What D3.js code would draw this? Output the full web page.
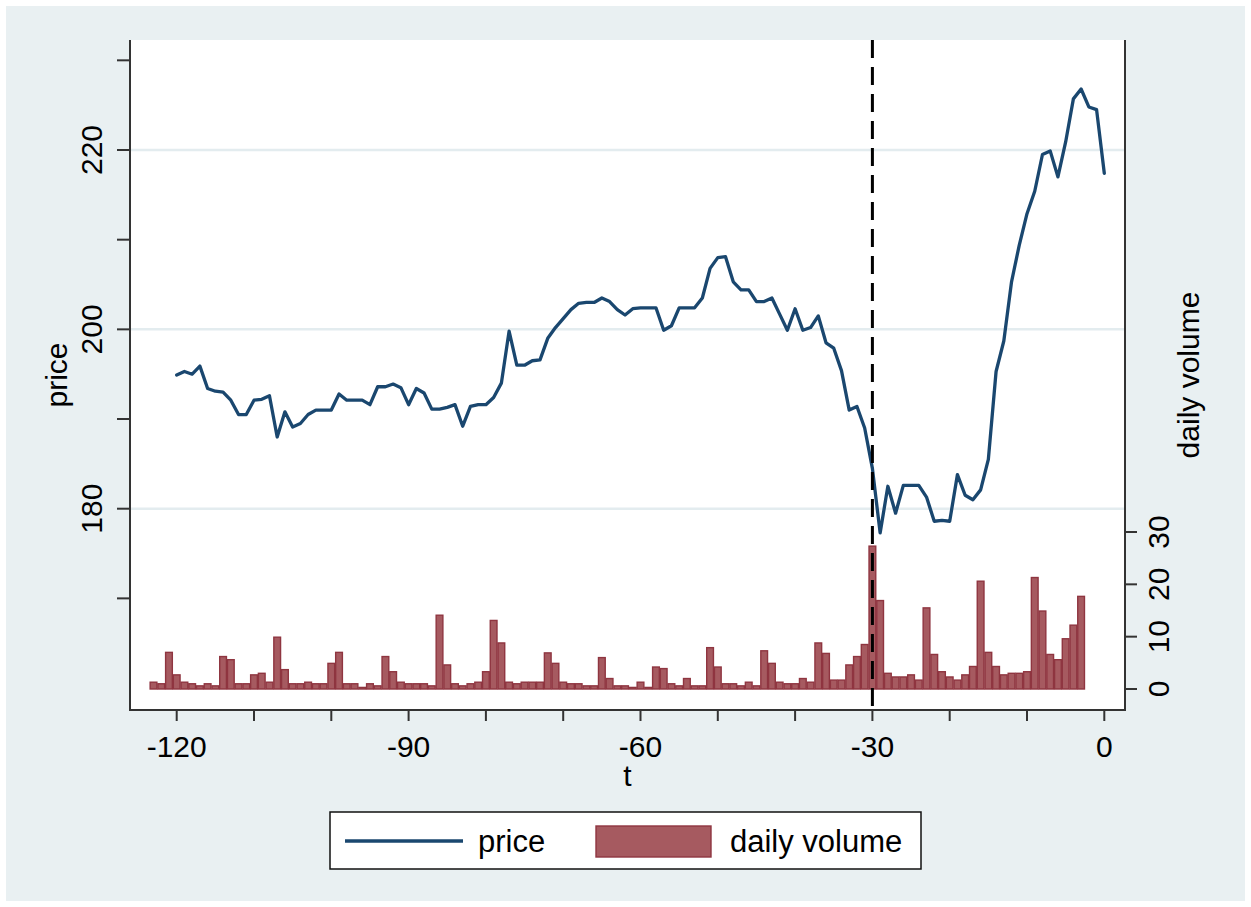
<!DOCTYPE html>
<html>
<head>
<meta charset="utf-8">
<script src="https://cdn.jsdelivr.net/npm/d3@7"></script>
<style>
  html, body { margin: 0; padding: 0; background: #ffffff; }
  svg { display: block; }
  text { font-family: "Liberation Sans", Arial, sans-serif; fill: #000; }
</style>
</head>
<body>
<svg id="chart" width="1251" height="907"></svg>
<script>
// ---- data ----
const priceDays = d3.range(-120, 1);
const priceValues = [
  194.9, 195.3, 195.0, 195.9, 193.4, 193.1, 193.0, 192.1, 190.5, 190.5,
  192.1, 192.2, 192.6, 188.0, 190.8, 189.1, 189.5, 190.5, 191.0, 191.0,
  191.0, 192.8, 192.1, 192.1, 192.1, 191.6, 193.6, 193.6, 193.9, 193.5,
  191.6, 193.4, 192.9, 191.1, 191.1, 191.3, 191.6, 189.2, 191.4, 191.6,
  191.6, 192.4, 194.0, 199.8, 196.0, 196.0, 196.5, 196.6, 199.0, 200.2,
  201.2, 202.2, 202.9, 203.0, 203.0, 203.5, 203.1, 202.2, 201.6, 202.3,
  202.4, 202.4, 202.4, 199.9, 200.4, 202.4, 202.4, 202.4, 203.5, 206.8,
  208.0, 208.1, 205.3, 204.4, 204.4, 203.1, 203.1, 203.5, 201.7, 199.9,
  202.3, 199.9, 200.2, 201.5, 198.5, 197.9, 195.4, 191.0, 191.4, 189.0,
  184.5, 177.3, 182.5, 179.5, 182.6, 182.6, 182.6, 181.3, 178.6, 178.7,
  178.6, 183.8, 181.5, 181.0, 182.1, 185.5, 195.3, 198.7, 205.3, 209.4,
  212.9, 215.4, 219.5, 219.9, 217.0, 220.9, 225.7, 226.8, 224.8, 224.5,
  217.4
];
const volumeDays = d3.range(-123, -2);
const volumeValues = [
  1.3, 1.0, 7.0, 2.7, 1.3, 1.0, 0.6, 1.0, 0.6, 6.2,
  5.6, 1.0, 1.0, 2.7, 3.0, 1.3, 9.9, 3.7, 1.0, 1.0,
  1.3, 1.0, 1.0, 4.9, 7.0, 1.0, 1.0, 0.3, 1.0, 0.6,
  6.2, 3.3, 1.3, 1.0, 1.0, 1.0, 0.6, 14.1, 4.6, 1.0,
  0.6, 1.0, 1.3, 3.3, 13.1, 8.8, 1.3, 1.0, 1.3, 1.3,
  1.3, 6.9, 4.9, 1.3, 1.0, 1.0, 0.6, 0.6, 6.0, 2.0,
  0.6, 0.6, 0.3, 1.3, 0.3, 4.2, 3.9, 1.0, 0.6, 2.0,
  0.6, 0.6, 7.9, 4.2, 1.0, 1.0, 0.6, 1.3, 0.6, 7.3,
  4.9, 1.3, 1.0, 1.0, 2.0, 1.3, 8.8, 6.8, 1.7, 1.7,
  4.6, 6.2, 8.5, 27.3, 16.9, 3.0, 2.3, 2.3, 2.7, 1.7,
  15.5, 6.6, 3.3, 2.3, 1.7, 2.7, 4.3, 20.6, 7.0, 4.3,
  2.7, 3.0, 3.0, 3.3, 21.3, 14.9, 6.6, 5.6, 9.6, 12.2,
  17.7
];
const xTicks = [-120, -110, -100, -90, -80, -70, -60, -50, -40, -30, -20, -10, 0];
const xTickLabels = [-120, -90, -60, -30, 0];
const priceTicks = [170, 180, 190, 200, 210, 220, 230];
const priceTickLabels = [180, 200, 220];
const volumeTicks = [0, 10, 20, 30];
const eventDay = -30;

// ---- layout ----
const plot = { left: 130, right: 1125, top: 40, bottom: 710 };
const svg = d3.select("#chart");

svg.append("rect").attr("x", 6).attr("y", 6).attr("width", 1239).attr("height", 895)
  .attr("fill", "#e9f0f2");
svg.append("rect").attr("x", plot.left).attr("y", plot.top)
  .attr("width", plot.right - plot.left).attr("height", plot.bottom - plot.top)
  .attr("fill", "#ffffff");

const x = d3.scaleLinear().domain([-120, 0]).range([176.7, 1104.3]);
const yL = d3.scaleLinear().domain([180, 220]).range([508.7, 150]);
const yR = d3.scaleLinear().domain([0, 30]).range([689, 532]);

// grid lines
svg.append("g").selectAll("line").data(priceTickLabels).join("line")
  .attr("x1", plot.left).attr("x2", plot.right)
  .attr("y1", d => yL(d)).attr("y2", d => yL(d))
  .attr("stroke", "#e3ecef").attr("stroke-width", 2.5);

// bars
const unit = x(1) - x(0);
svg.append("g").selectAll("rect").data(volumeDays.map((d, i) => [d, volumeValues[i]])).join("rect")
  .attr("x", d => x(d[0] - 0.5) + 0.5)
  .attr("width", unit - 1)
  .attr("y", d => yR(d[1]))
  .attr("height", d => yR(0) - yR(d[1]))
  .attr("fill", "#a65a60")
  .attr("stroke", "#8f3540")
  .attr("stroke-width", 1.4);

// price line
const line = d3.line().x((d, i) => x(priceDays[i])).y(d => yL(d));
svg.append("path").datum(priceValues)
  .attr("d", line)
  .attr("fill", "none")
  .attr("stroke", "#1a476f")
  .attr("stroke-width", 3.3)
  .attr("stroke-linejoin", "round")
  .attr("stroke-linecap", "round");

// event line
svg.append("line")
  .attr("x1", x(eventDay)).attr("x2", x(eventDay))
  .attr("y1", plot.top).attr("y2", plot.bottom)
  .attr("stroke", "#000").attr("stroke-width", 3)
  .attr("stroke-dasharray", "18,9");

// axes lines
const axisColor = "#333";
svg.append("line").attr("x1", plot.left).attr("x2", plot.left)
  .attr("y1", plot.top).attr("y2", plot.bottom + 0.5)
  .attr("stroke", axisColor).attr("stroke-width", 2);
svg.append("line").attr("x1", plot.right).attr("x2", plot.right)
  .attr("y1", plot.top).attr("y2", plot.bottom + 0.5)
  .attr("stroke", axisColor).attr("stroke-width", 2);
svg.append("line").attr("x1", plot.left - 1).attr("x2", plot.right + 1)
  .attr("y1", plot.bottom).attr("y2", plot.bottom)
  .attr("stroke", axisColor).attr("stroke-width", 2);

// x ticks
const gx = svg.append("g");
gx.selectAll("line").data(xTicks).join("line")
  .attr("x1", d => x(d)).attr("x2", d => x(d))
  .attr("y1", plot.bottom).attr("y2", plot.bottom + 11)
  .attr("stroke", axisColor).attr("stroke-width", 2);
gx.selectAll("text").data(xTickLabels).join("text")
  .attr("x", d => x(d)).attr("y", 757)
  .attr("text-anchor", "middle").attr("font-size", 30)
  .text(d => d);
svg.append("text").attr("x", (plot.left + plot.right) / 2).attr("y", 786)
  .attr("text-anchor", "middle").attr("font-size", 30).text("t");

// left ticks
const gl = svg.append("g");
gl.selectAll("line").data(priceTicks).join("line")
  .attr("x1", plot.left - 13).attr("x2", plot.left)
  .attr("y1", d => yL(d)).attr("y2", d => yL(d))
  .attr("stroke", axisColor).attr("stroke-width", 2);
gl.selectAll("text").data(priceTickLabels).join("text")
  .attr("transform", d => `translate(102,${yL(d)}) rotate(-90)`)
  .attr("text-anchor", "middle").attr("font-size", 30)
  .text(d => d);
svg.append("text")
  .attr("transform", `translate(67,${(plot.top + plot.bottom) / 2}) rotate(-90)`)
  .attr("text-anchor", "middle").attr("font-size", 30).text("price");

// right ticks
const gr = svg.append("g");
gr.selectAll("line").data(volumeTicks).join("line")
  .attr("x1", plot.right).attr("x2", plot.right + 12)
  .attr("y1", d => yR(d)).attr("y2", d => yR(d))
  .attr("stroke", axisColor).attr("stroke-width", 2);
gr.selectAll("text").data(volumeTicks).join("text")
  .attr("transform", d => `translate(1169,${yR(d)}) rotate(-90)`)
  .attr("text-anchor", "middle").attr("font-size", 30)
  .text(d => d);
svg.append("text")
  .attr("transform", `translate(1199,${(plot.top + plot.bottom) / 2}) rotate(-90)`)
  .attr("text-anchor", "middle").attr("font-size", 30).text("daily volume");

// legend
const lg = svg.append("g");
lg.append("rect").attr("x", 330).attr("y", 812).attr("width", 591).attr("height", 57)
  .attr("fill", "#fff").attr("stroke", "#111").attr("stroke-width", 1.5);
lg.append("line").attr("x1", 345).attr("x2", 463).attr("y1", 841).attr("y2", 841)
  .attr("stroke", "#1a476f").attr("stroke-width", 3.3);
lg.append("text").attr("x", 478).attr("y", 852).attr("font-size", 31).text("price");
lg.append("rect").attr("x", 596).attr("y", 826).attr("width", 115).attr("height", 31)
  .attr("fill", "#a65a60").attr("stroke", "#8f3540").attr("stroke-width", 1.4);
lg.append("text").attr("x", 730).attr("y", 852).attr("font-size", 31).text("daily volume");
</script>
</body>
</html>
